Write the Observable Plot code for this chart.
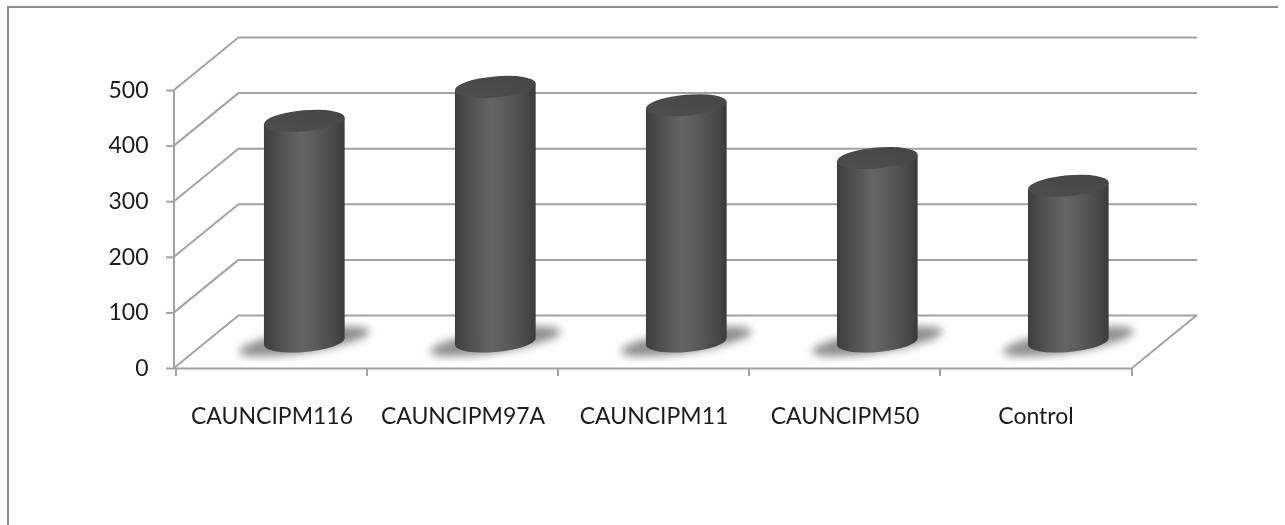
<!DOCTYPE html>
<html><head><meta charset="utf-8">
<script src="https://cdn.jsdelivr.net/npm/d3@7"></script>
<script src="https://cdn.jsdelivr.net/npm/@observablehq/plot@0.6"></script>
<style>
html,body{margin:0;padding:0;background:#fff;overflow:hidden}
#wrap{position:relative;width:1285px;height:525px}
#frame{position:absolute;left:7px;top:6px;width:1271px;height:519px;border-top:2.5px solid #8c8c8c;border-left:2.5px solid #8c8c8c;box-sizing:border-box}
#chart{position:absolute;left:0;top:0;filter:blur(0.35px)}
</style></head><body>
<div id="wrap"><div id="frame"></div><div id="chart"></div></div>
<script>
const categories = ["CAUNCIPM116","CAUNCIPM97A","CAUNCIPM11","CAUNCIPM50","Control"];
const values = [397,458,425,330,280];
const yTicks = [0,100,200,300,400,500];

const table = categories.map((c,i)=>({c,v:values[i]}));
const depthX = 65, depthY = -53;
const midX = depthX/2, midY = depthY/2;
const gridColor = "#a2a2a2";
const textColor = "#1c1c1c";
const ns = "http://www.w3.org/2000/svg";
const rx = 40.5, ry = 10.5, tilt = -5;
const capRise = rx*Math.sin(-tilt*Math.PI/180), capRun = rx*Math.cos(-tilt*Math.PI/180);

function el(name, attrs){
  const e = document.createElementNS(ns,name);
  for(const k in attrs) e.setAttribute(k,attrs[k]);
  return e;
}
function defsMark(){
  const g = el("g",{});
  const defs = el("defs",{});
  const side = el("linearGradient",{id:"side",x1:0,x2:1,y1:0,y2:0});
  [[0,"#3e3e3e"],[0.14,"#4a4a4a"],[0.45,"#656565"],[0.62,"#5c5c5c"],[0.88,"#484848"],[1,"#3c3c3c"]].forEach(([o,c])=>side.append(el("stop",{offset:o,"stop-color":c})));
  const top = el("linearGradient",{id:"topcap",x1:0,x2:1,y1:1,y2:0});
  [[0,"#4e4e4e"],[1,"#454545"]].forEach(([o,c])=>top.append(el("stop",{offset:o,"stop-color":c})));
  const blur = el("filter",{id:"soft",x:"-30%",y:"-100%",width:"160%",height:"300%"});
  blur.append(el("feGaussianBlur",{stdDeviation:4}));
  defs.append(side,top,blur);
  g.append(defs);
  return g;
}
function centre(scales,dim,c){
  return scales.x(c) + (dim.width-dim.marginLeft-dim.marginRight)/categories.length/2 + midX;
}
function shadowMark(index,scales,vals,dim){
  const g = el("g",{});
  categories.forEach(c=>{
    const cx = centre(scales,dim,c), cy = scales.y(0)+midY;
    g.append(el("ellipse",{cx,cy,rx:66,ry:11,fill:"#8e8e8e",filter:"url(#soft)",transform:`rotate(-9 ${cx} ${cy})`}));
  });
  return g;
}
function bodyMark(index,scales,vals,dim){
  const g = el("g",{});
  table.forEach(({c,v})=>{
    const cx = centre(scales,dim,c), b = scales.y(0)+midY, t = scales.y(v)+midY;
    const l = cx-capRun, r = cx+capRun;
    g.append(el("path",{fill:"url(#side)",
      d:`M${l},${t+capRise}L${l},${b+capRise}A${rx},${ry} ${tilt} 0 0 ${r},${b-capRise}L${r},${t-capRise}Z`}));
  });
  return g;
}
function topMark(index,scales,vals,dim){
  const g = el("g",{});
  table.forEach(({c,v})=>{
    const cx = centre(scales,dim,c), cy = scales.y(v)+midY;
    g.append(el("ellipse",{cx,cy,rx,ry,fill:"url(#topcap)",transform:`rotate(${tilt} ${cx} ${cy})`}));
  });
  return g;
}
function axisLinesMark(index,scales,vals,dim){
  const g = el("g",{stroke:gridColor,"stroke-width":2,fill:"none"});
  const x0 = dim.marginLeft, x1 = dim.width-dim.marginRight;
  yTicks.forEach(t=>{
    const y = scales.y(t);
    g.append(el("line",{x1:x0,y1:y,x2:x0+depthX,y2:y+depthY}));
  });
  const y0 = scales.y(0);
  g.append(el("line",{x1:x1,y1:y0,x2:x1+depthX,y2:y0+depthY}));
  g.append(el("line",{x1:x0,x2:x0,y1:y0,y2:scales.y(500)}));
  categories.map(c=>scales.x(c)).concat([x1]).forEach(x=>g.append(el("line",{x1:x,x2:x,y1:y0,y2:y0+8})));
  return g;
}

const chart = Plot.plot({
  width:1285,height:525,
  marginLeft:174,marginRight:153,marginTop:90,marginBottom:157,
  style:{background:"transparent",fontFamily:"Lato, sans-serif",fontSize:"23px",color:textColor},
  x:{type:"band",domain:categories,padding:0,label:null},
  y:{domain:[0,500],label:null},
  marks:[
    defsMark,
    Plot.ruleY(yTicks,{y:d=>d,dx:depthX,dy:depthY,stroke:gridColor,strokeWidth:2}),
    axisLinesMark,
    Plot.ruleY([0],{stroke:gridColor,strokeWidth:2}),
    Plot.axisY({ticks:yTicks,tickSize:8,tickPadding:18,stroke:gridColor,strokeWidth:2,strokeOpacity:1,fill:textColor,label:null,tickFormat:d=>String(d)}),
    Plot.axisX({tickSize:0,tickPadding:39,fill:textColor,label:null}),
    shadowMark,
    bodyMark,
    Plot.barY(table,{x:"c",y:"v",dx:midX,dy:midY,insetLeft:55.5,insetRight:55.5,insetTop:4,insetBottom:4,fill:"url(#side)"}),
    topMark
  ]
});
document.getElementById("chart").append(chart);
</script>
</body></html>
